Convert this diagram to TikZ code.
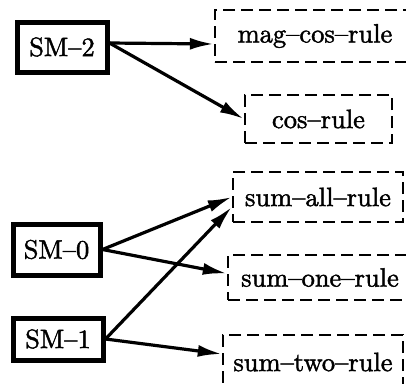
\documentclass[tikz,border=0pt]{standalone}
\usepackage{fontspec}
\usetikzlibrary{arrows.meta}
% 10pt optical design of Latin Modern, scaled up and thickened for the box labels
\newfontfamily\labelfont{lmroman10-regular.otf}[Ligatures=TeX, FakeBold=1.6]
\begin{document}
\begin{tikzpicture}[x=1pt,y=-1pt,
  smbox/.style={draw, line width=5pt, rectangle, inner sep=0pt,
    font=\labelfont\fontsize{26.5}{30}\selectfont},
  rulebox/.style={draw, line width=2.4pt, dash pattern=on 12pt off 6pt,
    rectangle, inner sep=0pt, font=\labelfont\fontsize{26.5}{30}\selectfont},
  arr/.style={line width=3.2pt, -{Latex[length=24pt,width=12pt]}}]
\useasboundingbox (0,0) rectangle (406,383);

% source boxes
\node[smbox, minimum width=90pt, minimum height=50pt] (sm2) at (62,47) {SM–2};
\node[smbox, minimum width=87pt, minimum height=51pt] (sm0) at (56.5,249.5) {SM–0};
\node[smbox, minimum width=90pt, minimum height=42pt] (sm1) at (58,339) {SM–1};

% rule boxes
\node[rulebox, minimum width=200pt, minimum height=52pt] (magcos) at (315,36) {mag–cos–rule};
\node[rulebox, minimum width=147pt, minimum height=48pt] (cos) at (318.5,119) {cos–rule};
\node[rulebox, minimum width=170pt, minimum height=50pt] (sumall) at (318,197) {sum–all–rule};
\node[rulebox, minimum width=184pt, minimum height=45pt] (sumone) at (320,277.5) {sum–one–rule};
\node[rulebox, minimum width=180pt, minimum height=54pt] (sumtwo) at (313,362) {sum–two–rule};

% connectors
\draw[arr] ([yshift=4pt]sm2.east) -- ([yshift=-8pt]magcos.west);
\draw[arr] ([yshift=4pt]sm2.east) -- (cos.west);
\draw[arr] (sm0.east) -- (sumall.west);
\draw[arr] (sm0.east) -- ([yshift=4pt]sumone.west);
\draw[arr] (sm1.east) -- ([yshift=-10pt]sumall.west);
\draw[arr] (sm1.east) -- ([yshift=8pt]sumtwo.west);
\end{tikzpicture}
\end{document}
